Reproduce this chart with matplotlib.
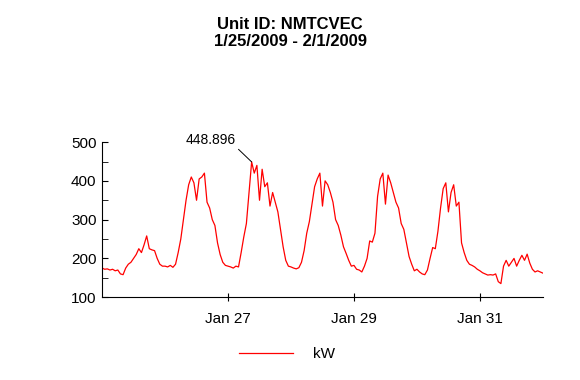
import numpy as np
import pandas as pd
import matplotlib
matplotlib.use("Agg")
import matplotlib.pyplot as plt
import matplotlib.dates as mdates

plt.rcParams['font.family'] = ['Liberation Sans', 'DejaVu Sans']

# hourly kW readings (Jan 25 00:00 .. Feb 1 00:00)
jan25 = [175, 172, 173, 170, 172, 168, 170, 160, 158, 175, 185, 190,
         200, 210, 225, 215, 235, 258, 225, 222, 220, 200, 185, 180]
jan26 = [180, 178, 182, 177, 185, 215, 250, 300, 350, 390, 410, 395,
         350, 405, 410, 420, 345, 330, 300, 285, 240, 210, 190, 182]
jan27 = [180, 178, 175, 180, 178, 215, 255, 290, 370, 448.896, 420, 440,
         350, 430, 385, 395, 335, 370, 345, 320, 275, 230, 195, 180]
jan28 = [178, 175, 173, 176, 190, 220, 265, 295, 340, 385, 405, 420,
         335, 400, 390, 370, 345, 300, 285, 260, 230, 213, 195, 180]
jan29 = [182, 172, 170, 165, 180, 200, 245, 242, 265, 360, 405, 420,
         340, 415, 395, 370, 345, 330, 290, 275, 240, 205, 185, 168]
jan30 = [172, 165, 160, 158, 170, 200, 228, 225, 270, 330, 380, 395,
         320, 370, 390, 335, 345, 240, 215, 195, 185, 182, 178, 172]
jan31 = [168, 163, 160, 157, 158, 157, 160, 140, 135, 180, 195, 180,
         190, 200, 180, 195, 208, 195, 211, 188, 172, 165, 168, 165]
feb01 = [162]

kw = jan25 + jan26 + jan27 + jan28 + jan29 + jan30 + jan31 + feb01
times = pd.date_range('2009-01-25', periods=len(kw), freq='h')

peak_label = '448.896'
title = 'Unit ID: NMTCVEC\n1/25/2009 - 2/1/2009'

fig = plt.figure(figsize=(5.8, 3.8), dpi=100)
ax = fig.add_axes([0.176, 0.218, 0.760, 0.408])

ax.plot(times, kw, color='red', linewidth=0.9, label='kW')

ax.set_xlim(pd.Timestamp('2009-01-25'), pd.Timestamp('2009-02-01'))
ax.set_ylim(100, 500)
ax.set_yticks([100, 200, 300, 400, 500])
ax.set_yticks([150, 250, 350, 450], minor=True)
ax.xaxis.set_major_locator(mdates.DayLocator(bymonthday=[27, 29, 31]))
ax.xaxis.set_major_formatter(mdates.DateFormatter('%b %d'))

for s in ['top', 'right']:
    ax.spines[s].set_visible(False)
ax.tick_params(axis='y', which='both', direction='in', length=4, pad=4, labelsize=11)
ax.tick_params(axis='x', direction='inout', length=6, pad=8, labelsize=11)

i_max = int(np.argmax(kw))
ax.annotate(peak_label, xy=(times[i_max], kw[i_max]), xytext=(-29.5, 11),
            textcoords='offset points', fontsize=10, ha='center', va='bottom',
            arrowprops=dict(arrowstyle='-', color='black', lw=0.7,
                            shrinkA=0, shrinkB=0, relpos=(1.0, 0.0)))

fig.text(0.5, 0.955, title, ha='center', va='top', fontsize=12,
         fontweight='bold', linespacing=1.2)

fig.legend(loc='center', bbox_to_anchor=(0.495, 0.068), frameon=False,
           handlelength=3.5, handletextpad=1.3, fontsize=11)

fig.savefig('out.png', dpi=100)
